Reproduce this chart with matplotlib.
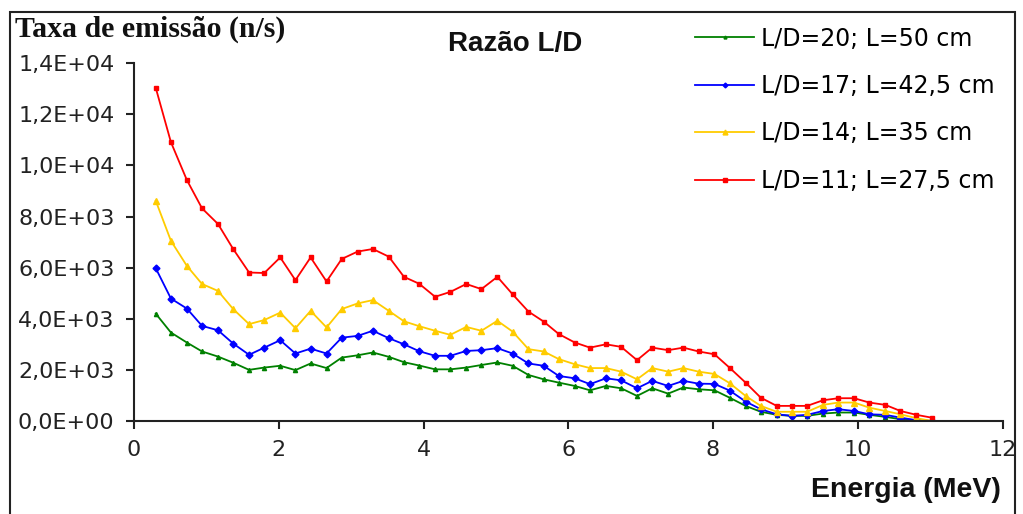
import matplotlib
matplotlib.use("Agg")
import matplotlib.pyplot as plt
from matplotlib.ticker import FuncFormatter, MultipleLocator
from matplotlib.patches import Rectangle

# energia (MeV)
energia = [0.30, 0.51, 0.73, 0.94, 1.16, 1.37, 1.59, 1.80, 2.02, 2.23,
           2.44, 2.66, 2.87, 3.09, 3.30, 3.52, 3.73, 3.94, 4.16, 4.37,
           4.59, 4.80, 5.02, 5.23, 5.45, 5.66, 5.87, 6.09, 6.30, 6.52,
           6.73, 6.95, 7.16, 7.38, 7.59, 7.80, 8.02, 8.23, 8.45, 8.66,
           8.88, 9.09, 9.30, 9.52, 9.73, 9.95, 10.16, 10.38, 10.59, 10.81,
           11.02]

# taxa de emissao (n/s) for each L/D
ld20 = [4200, 3460, 3070, 2720, 2520, 2280, 2000, 2090, 2160, 1990,
        2250, 2070, 2480, 2570, 2680, 2510, 2300, 2170, 2020, 2020,
        2090, 2190, 2290, 2160, 1800, 1630, 1500, 1370, 1200, 1370,
        1280, 980, 1280, 1070, 1310, 1240, 1200, 910, 590, 360,
        240, 200, 200, 290, 330, 330, 240, 160, 70, 30,
        0]
ld17 = [5980, 4790, 4400, 3720, 3550, 3030, 2590, 2870, 3160, 2640,
        2830, 2640, 3260, 3330, 3530, 3240, 3000, 2730, 2550, 2550,
        2740, 2770, 2850, 2640, 2250, 2160, 1760, 1670, 1440, 1670,
        1590, 1280, 1570, 1370, 1570, 1460, 1450, 1190, 760, 460,
        260, 200, 240, 390, 460, 390, 260, 240, 130, 30,
        0]
ld14 = [8620, 7050, 6070, 5360, 5090, 4380, 3790, 3950, 4240, 3630,
        4310, 3660, 4380, 4600, 4730, 4310, 3900, 3710, 3530, 3370,
        3680, 3530, 3920, 3500, 2810, 2720, 2420, 2220, 2070, 2070,
        1930, 1630, 2070, 1930, 2070, 1930, 1840, 1480, 980, 590,
        360, 360, 360, 630, 720, 720, 520, 390, 260, 110,
        0]
ld11 = [13040, 10910, 9430, 8320, 7710, 6730, 5810, 5790, 6400, 5510,
        6400, 5460, 6340, 6630, 6730, 6430, 5640, 5370, 4860, 5050,
        5360, 5160, 5640, 4960, 4280, 3890, 3400, 3070, 2870, 3000,
        2900, 2380, 2870, 2770, 2870, 2720, 2610, 2080, 1500, 910,
        590, 590, 590, 810, 890, 890, 720, 630, 390, 240,
        130]

labels = ["L/D=20; L=50 cm", "L/D=17; L=42,5 cm",
          "L/D=14; L=35 cm", "L/D=11; L=27,5 cm"]

fig = plt.figure(figsize=(10.23, 5.14), dpi=100)
ax = fig.add_axes([0.131, 0.181, 0.849, 0.696])

ax.plot(energia, ld20, color='#008000', lw=1.3, marker='^', ms=3, label=labels[0])
ax.plot(energia, ld17, color='#0000FF', lw=1.3, marker='D', ms=3.5, label=labels[1])
ax.plot(energia, ld14, color='#FFCC00', lw=1.3, marker='^', ms=5, label=labels[2])
ax.plot(energia, ld11, color='#FF0000', lw=1.3, marker='s', ms=3.5, label=labels[3])

ax.set_xlim(0, 12)
ax.set_ylim(0, 14000)
ax.xaxis.set_major_locator(MultipleLocator(2))
ax.yaxis.set_major_locator(MultipleLocator(2000))
ax.yaxis.set_major_formatter(FuncFormatter(lambda v, p: f"{v:.1E}".replace('.', ',')))

for s in ['top', 'right']:
    ax.spines[s].set_visible(False)
for s in ['left', 'bottom']:
    ax.spines[s].set_linewidth(1.5)
    ax.spines[s].set_color('#222222')
ax.tick_params(direction='out', length=6, width=1.5, colors='#222222',
               labelsize=16, pad=8)

fig.text(0.015, 0.942, "Taxa de emissão (n/s)", family='Liberation Serif',
         fontweight='bold', fontsize=21.5, ha='left', va='center', color='#111111')
fig.text(0.504, 0.914, "Razão L/D", family='Liberation Sans',
         fontweight='bold', fontsize=20, ha='center', va='center', color='#111111')
fig.text(0.978, 0.047, "Energia (MeV)", family='Liberation Sans',
         fontweight='bold', fontsize=20.5, ha='right', va='center', color='#111111')

leg = ax.legend(loc='upper left', bbox_to_anchor=(0.668, 0.971),
                bbox_transform=fig.transFigure, frameon=False,
                prop={'size': 17},
                borderpad=0, labelspacing=0.99, handlelength=2.5,
                handletextpad=0.3, markerscale=0.7)

# outer frame
fig.patches.append(Rectangle((0.010, -0.02), 0.982, 0.997, transform=fig.transFigure,
                             fill=False, edgecolor='#222222', lw=1.5))

fig.savefig("out.png", dpi=100, facecolor='white')
